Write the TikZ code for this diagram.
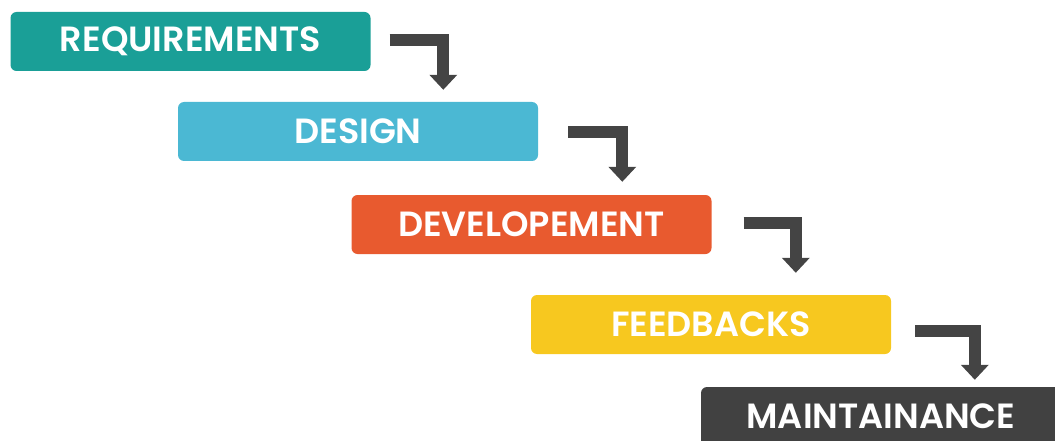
\documentclass[tikz,border=0pt]{standalone}
\usepackage{fontspec}
\setmainfont{Poppins}[BoldFont={* SemiBold}]
\usepackage{xcolor}
\definecolor{reqteal}{HTML}{1A9F97}
\definecolor{desblue}{HTML}{4BB8D3}
\definecolor{devorange}{HTML}{E85A2F}
\definecolor{fbkyellow}{HTML}{F7C81F}
\definecolor{mntgray}{HTML}{414141}
\definecolor{flowgray}{HTML}{444444}
\usetikzlibrary{calc,arrows.meta}

\begin{document}
\begin{tikzpicture}[x=1pt, y=-1pt,
		phase/.style={rounded corners=6pt, minimum width=360pt, minimum height=59pt, inner sep=0pt,
			text=white, font=\fontsize{35}{35}\selectfont\bfseries},
		flow/.style={draw=flowgray, line width=12pt, line join=miter,
			-{Triangle[width=27pt,length=15pt]}}]
			\useasboundingbox (0,0) rectangle (1055,441);
			\clip (0,0) rectangle (1055,441);

			\node[phase, fill=reqteal] (req) at (190.5,41.5) {REQUIREMENTS};
			\node[phase, fill=desblue] (des) at (358,131.5) {DESIGN};
			\node[phase, fill=devorange] (dev) at (531.5,224.5) {DEVELOPEMENT};
			\node[phase, fill=fbkyellow] (fbk) at (711,324.5) {FEEDBACKS};
			\node[phase, fill=mntgray] (mnt) at (881,416.5) {MAINTAINANCE};

			% elbow arrows: right from one phase, then down onto the next
			\foreach \a/\b/\sx/\dy/\dx/\gap in {req/des/19/-1.5/265.5/12, des/dev/30/1/271/13,
					dev/fbk/32/-1.5/265/22, fbk/mnt/24/6.5/274/7} {
				\draw[flow] ($(\a.east)+(\sx,\dy)$) -| ($(\b.north west)+(\dx,-\gap)$);
			}
		\end{tikzpicture}
\end{document}
